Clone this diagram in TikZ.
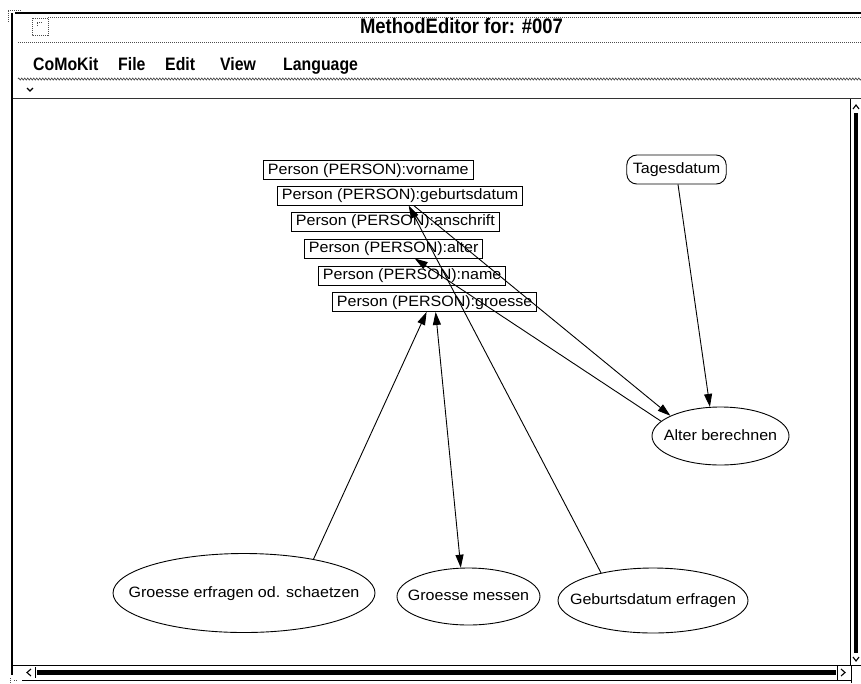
\documentclass[tikz,border=0pt]{standalone}
\usepackage{fontspec}
\setmainfont{Liberation Sans}
\usetikzlibrary{shapes.geometric,arrows.meta,calc,decorations.pathmorphing}
% X11 Helvetica runs a little wider than Liberation Sans
\newcommand\lbl[1]{\scalebox{1.07}[1]{#1}}
% label of zero width, so that the ellipse keeps its given size
\newcommand\lbz[1]{\makebox[0pt]{\lbl{#1}}}
% narrow bold face of the window title and menu
\newcommand\nrw[1]{\scalebox{0.88}[1]{#1}}
\begin{document}
\begin{tikzpicture}[x=1pt,y=-1pt,
  lblfont/.style={font=\fontsize{15}{17}\selectfont},
  attr/.style={draw,rectangle,line width=0.9pt,anchor=west,inner xsep=4.5pt,inner ysep=0pt,
    minimum height=19pt,text height=11pt,text depth=3pt,lblfont},
  act/.style={draw,ellipse,line width=0.9pt,inner sep=0pt,text height=11pt,text depth=3pt,lblfont},
  term/.style={draw,rectangle,rounded corners=10pt,line width=0.9pt,inner xsep=6pt,
    minimum height=29pt,text height=11pt,text depth=3pt,lblfont},
  menu/.style={anchor=base west,inner sep=0pt,font=\bfseries\fontsize{18}{20}\selectfont},
  arr/.style={line width=0.9pt,-{Triangle[length=13pt,width=8pt]}},
  dotline/.style={line width=1pt,black!70,dash pattern=on 1pt off 1pt},
  chev/.style={line width=1.1pt}]
\useasboundingbox (0,0) rectangle (861,683);
\fill[white] (0,0) rectangle (861,683);

% ---------- window frame ----------
\draw[line width=2pt] (12,13) -- (12,675);
\draw[line width=2pt] (15,13) -- (861,13);
\draw[dotline] (8,22) -- (8,10) -- (22,10);
\draw[dotline] (10,678) -- (10,683);
\draw[dotline] (14,680) -- (17,680);
% window icon
\draw[dotline] (32,18) rectangle (48,35);
\draw[dotline] (37,26) -- (37,22) -- (42,22);
\draw[dotline] (48,17) -- (861,17);
\node[anchor=base,inner sep=0pt,font=\bfseries\fontsize{21}{23}\selectfont] (title) at (461.5,33) {\nrw{MethodEditor for: \#007}};
\draw[dotline] (18,42) -- (861,42);

% ---------- menu bar ----------
\node[menu] (mcomo) at (33,70) {\nrw{CoMoKit}};
\node[menu] (mfile) at (118,70) {\nrw{File}};
\node[menu] (medit) at (165,70) {\nrw{Edit}};
\node[menu] (mview) at (220,70) {\nrw{View}};
\node[menu] (mlang) at (283,70) {\nrw{Language}};
\draw[line width=0.7pt,black!70,decorate,decoration={zigzag,segment length=3pt,amplitude=1pt}] (18,79) -- (861,79);
\draw[chev] (27,88) -- (30,91) -- (33,88);
\draw[line width=1.6pt,black!80] (13,98.5) -- (861,98.5);

% ---------- scroll bars ----------
\draw[line width=1pt] (850,99) -- (850,665);
\draw[chev] (853,109) -- (856,105) -- (859,109);
\fill (854,113) rectangle (858,653);
\draw[chev] (853,657) -- (856,661) -- (859,657);
\draw[line width=1pt] (13,665) -- (861,665);
\draw[chev] (31,669) -- (27,672.5) -- (31,676);
\draw[line width=1pt] (35,667) -- (35,678);
\fill (37,670) rectangle (836,674.5);
\draw[line width=1pt] (837,665) -- (837,680);
\draw[chev] (841,669) -- (845,672.5) -- (841,676);
\draw[line width=1pt] (851,665) -- (851,683);
\draw[line width=1pt] (22,680) -- (851,680);

% ---------- attribute boxes ----------
\node[attr] (pvor) at (263,170) {\lbl{Person (PERSON):vorname}};
\node[attr] (pgeb) at (277,195.5) {\lbl{Person (PERSON):geburtsdatum}};
\node[attr] (pans) at (291,221.5) {\lbl{Person (PERSON):anschrift}};
\node[attr] (palt) at (304,248.5) {\lbl{Person (PERSON):alter}};
\node[attr] (pnam) at (318,275.5) {\lbl{Person (PERSON):name}};
\node[attr] (pgro) at (332,302) {\lbl{Person (PERSON):groesse}};

% ---------- activities ----------
\node[term] (tag) at (676.5,169.5) {\lbl{Tagesdatum}};
\node[act,minimum width=137pt,minimum height=58pt] (aber) at (720.5,436) {\lbz{Alter berechnen}};
\node[act,minimum width=262pt,minimum height=79pt] (gerf) at (244,593) {\lbz{Groesse erfragen od. schaetzen}};
\node[act,minimum width=143pt,minimum height=57pt] (gmes) at (468.5,596.5) {\lbz{Groesse messen}};
\node[act,minimum width=190pt,minimum height=65pt] (gbef) at (653,600.5) {\lbz{Geburtsdatum erfragen}};

% ---------- data flow ----------
\draw[arr] ([xshift=1.5pt]tag.south) -- (aber.110);
\draw[arr] ([xshift=13.5pt]pgeb.south) -- (aber.158);
\draw[arr] (aber.166) -- ([xshift=21pt]palt.south);
\draw[arr] (gbef.152) -- ([xshift=8.5pt]pgeb.south);
\draw[arr] (gerf.26) -- ([xshift=-8pt]pgro.south);
\draw[line width=0.9pt,{Triangle[length=13pt,width=8pt]}-{Triangle[length=13pt,width=8pt]}] ([xshift=1pt]pgro.south) -- (gmes.105);
\end{tikzpicture}
\end{document}
